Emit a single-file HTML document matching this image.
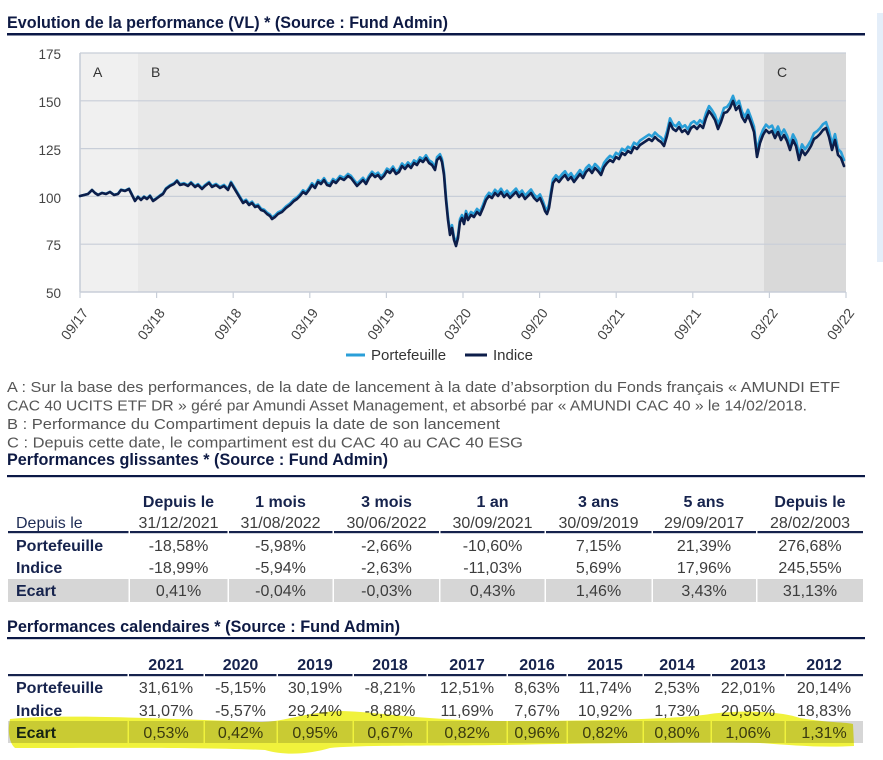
<!DOCTYPE html>
<html><head><meta charset="utf-8"><style>
html,body{margin:0;padding:0;background:#fff;}
svg{display:block;font-family:"Liberation Sans",Arial,sans-serif;}
.t{fill:#3d3d3d;font-size:16px;text-anchor:middle;}
.h{fill:#16234d;font-size:16px;font-weight:bold;text-anchor:middle;}
.l{fill:#16234d;font-size:16px;font-weight:bold;}
.ax{fill:#444;font-size:13.5px;}
</style></head><body>
<svg width="883" height="760" viewBox="0 0 883 760">
<rect width="883" height="760" fill="#fff"/>
<rect x="877" y="13" width="6" height="249" fill="#e4eef9"/>
<!-- Title -->
<text x="7" y="28" font-size="17" font-weight="bold" fill="#0e1a44" textLength="441" lengthAdjust="spacingAndGlyphs">Evolution de la performance (VL) * (Source : Fund Admin)</text>
<rect x="7" y="33" width="858" height="2.5" fill="#0b1846"/>
<!-- Chart backgrounds -->
<rect x="80" y="53" width="58" height="239" fill="#f0f0f0"/>
<rect x="138" y="53" width="626" height="239" fill="#e8e8e8"/>
<rect x="764" y="53" width="82" height="239" fill="#d9d9d9"/>
<g stroke="#c8ced8" stroke-width="1.2">
<line x1="80" y1="53" x2="846" y2="53"/>
<line x1="80" y1="100.8" x2="846" y2="100.8"/>
<line x1="80" y1="148.6" x2="846" y2="148.6"/>
<line x1="80" y1="196.4" x2="846" y2="196.4"/>
<line x1="80" y1="244.2" x2="846" y2="244.2"/>
<line x1="80" y1="292" x2="846" y2="292" stroke-width="1.6"/>
<line x1="80" y1="53" x2="80" y2="292" stroke-width="1.6"/>
<line x1="80" y1="292" x2="80" y2="298"/>
<line x1="156.6" y1="292" x2="156.6" y2="298"/>
<line x1="233.2" y1="292" x2="233.2" y2="298"/>
<line x1="309.8" y1="292" x2="309.8" y2="298"/>
<line x1="386.4" y1="292" x2="386.4" y2="298"/>
<line x1="463" y1="292" x2="463" y2="298"/>
<line x1="539.6" y1="292" x2="539.6" y2="298"/>
<line x1="616.2" y1="292" x2="616.2" y2="298"/>
<line x1="692.8" y1="292" x2="692.8" y2="298"/>
<line x1="769.4" y1="292" x2="769.4" y2="298"/>
<line x1="846" y1="292" x2="846" y2="298"/>
</g>
<g font-size="14" fill="#333">
<text x="93" y="77">A</text>
<text x="151" y="77">B</text>
<text x="777" y="77">C</text>
</g>
<g class="ax" text-anchor="end">
<text x="61" y="59">175</text>
<text x="61" y="107">150</text>
<text x="61" y="155">125</text>
<text x="61" y="203">100</text>
<text x="61" y="250">75</text>
<text x="61" y="298">50</text>
</g>
<g class="ax" text-anchor="end" style="font-size:14px">
<text transform="translate(89,313) rotate(-53)">09/17</text>
<text transform="translate(165.6,313) rotate(-53)">03/18</text>
<text transform="translate(242.2,313) rotate(-53)">09/18</text>
<text transform="translate(318.8,313) rotate(-53)">03/19</text>
<text transform="translate(395.4,313) rotate(-53)">09/19</text>
<text transform="translate(472,313) rotate(-53)">03/20</text>
<text transform="translate(548.6,313) rotate(-53)">09/20</text>
<text transform="translate(625.2,313) rotate(-53)">03/21</text>
<text transform="translate(701.8,313) rotate(-53)">09/21</text>
<text transform="translate(778.4,313) rotate(-53)">03/22</text>
<text transform="translate(855,313) rotate(-53)">09/22</text>
</g>
<!-- Series -->
<g fill="none" stroke-width="2.6" stroke-linejoin="round" stroke-linecap="round">
<polyline stroke="#2a9fd8" transform="matrix(1,-0.00784,0,1,0,0.63)" points="80,196 84,195 88,194 92,190 95,193 98,195 102,193 106,194 110,192 114,195 118,194 121,190 125,191 129,189 132,195 135,201 138,197 141,200 144,197 147,199 150,196 153,201 156,199 160,196 163,194 166,189 170,186 174,184 177,181 180,185 184,184 188,186 191,183 195,187 198,185 202,189 205,186 209,183 212,187 216,185 220,188 224,186 228,190 231,183 234,188 237,193 240,198 243,203 246,201 249,205 252,203 255,207 258,206 261,210 264,211 267,214 270,216 272,219 275,217 278,214 282,212 286,208 290,205 294,201 297,199 300,196 303,192 306,194 309,190 312,185 315,188 318,182 321,184 324,180 327,185 330,186 333,181 336,183 340,178 344,180 348,176 351,178 354,182 357,186 360,183 363,180 366,184 369,178 372,174 375,177 378,175 381,179 384,176 387,171 390,173 393,169 396,174 399,172 402,166 405,169 408,165 411,168 414,163 417,165 420,160 423,162 426,158 429,163 432,165 435,170 437,160 440,157 442,162 444,175 446,200 448,220 450,235 452,228 454,240 456,246 458,238 460,222 462,218 464,224 466,214 468,220 471,215 474,217 477,212 480,215 483,208 486,200 489,196 492,198 495,193 498,196 501,192 504,197 507,194 510,198 513,195 516,192 519,197 522,194 525,199 528,196 531,193 534,198 537,201 540,198 543,205 545,211 547,214 549,208 551,195 553,183 556,179 559,182 562,178 565,175 568,180 571,177 574,182 577,178 580,174 583,178 586,172 589,169 592,173 595,168 598,171 601,175 604,167 607,163 610,160 613,162 616,157 619,159 622,153 625,155 628,151 631,153 634,147 637,149 640,145 643,143 646,141 649,139 652,141 655,137 658,140 661,142 664,146 667,136 670,123 673,129 676,131 679,127 682,132 685,130 688,134 691,128 694,126 697,129 700,125 703,128 706,118 709,111 712,115 715,120 718,129 721,122 724,113 727,112 730,108 733,101 736,110 739,106 742,117 745,122 748,115 751,123 754,132 757,157 760,143 763,135 766,130 769,133 772,131 775,138 778,132 781,140 784,135 787,141 790,150 793,140 796,146 799,160 802,150 805,155 808,151 811,146 814,139 817,137 820,134 823,130 826,128 829,137 832,150 835,140 838,155 841,158 844,166"/>
<polyline stroke="#0d1e4a" points="80,196 84,195 88,194 92,190 95,193 98,195 102,193 106,194 110,192 114,195 118,194 121,190 125,191 129,189 132,195 135,201 138,197 141,200 144,197 147,199 150,196 153,201 156,199 160,196 163,194 166,189 170,186 174,184 177,181 180,185 184,184 188,186 191,183 195,187 198,185 202,189 205,186 209,183 212,187 216,185 220,188 224,186 228,190 231,183 234,188 237,193 240,198 243,203 246,201 249,205 252,203 255,207 258,206 261,210 264,211 267,214 270,216 272,219 275,217 278,214 282,212 286,208 290,205 294,201 297,199 300,196 303,192 306,194 309,190 312,185 315,188 318,182 321,184 324,180 327,185 330,186 333,181 336,183 340,178 344,180 348,176 351,178 354,182 357,186 360,183 363,180 366,184 369,178 372,174 375,177 378,175 381,179 384,176 387,171 390,173 393,169 396,174 399,172 402,166 405,169 408,165 411,168 414,163 417,165 420,160 423,162 426,158 429,163 432,165 435,170 437,160 440,157 442,162 444,175 446,200 448,220 450,235 452,228 454,240 456,246 458,238 460,222 462,218 464,224 466,214 468,220 471,215 474,217 477,212 480,215 483,208 486,200 489,196 492,198 495,193 498,196 501,192 504,197 507,194 510,198 513,195 516,192 519,197 522,194 525,199 528,196 531,193 534,198 537,201 540,198 543,205 545,211 547,214 549,208 551,195 553,183 556,179 559,182 562,178 565,175 568,180 571,177 574,182 577,178 580,174 583,178 586,172 589,169 592,173 595,168 598,171 601,175 604,167 607,163 610,160 613,162 616,157 619,159 622,153 625,155 628,151 631,153 634,147 637,149 640,145 643,143 646,141 649,139 652,141 655,137 658,140 661,142 664,146 667,136 670,123 673,129 676,131 679,127 682,132 685,130 688,134 691,128 694,126 697,129 700,125 703,128 706,118 709,111 712,115 715,120 718,129 721,122 724,113 727,112 730,108 733,101 736,110 739,106 742,117 745,122 748,115 751,123 754,132 757,157 760,143 763,135 766,130 769,133 772,131 775,138 778,132 781,140 784,135 787,141 790,150 793,140 796,146 799,160 802,150 805,155 808,151 811,146 814,139 817,137 820,134 823,130 826,128 829,137 832,150 835,140 838,155 841,158 844,166"/>
</g>
<!-- Legend -->
<line x1="346" y1="355" x2="365" y2="355" stroke="#2a9fd8" stroke-width="3"/>
<text x="371" y="360" font-size="15" fill="#333">Portefeuille</text>
<line x1="465" y1="355" x2="487" y2="355" stroke="#0d1e4a" stroke-width="3"/>
<text x="493" y="360" font-size="15" fill="#333">Indice</text>
<!-- Notes -->
<g font-size="15" fill="#555">
<text x="7" y="392" textLength="833" lengthAdjust="spacingAndGlyphs">A : Sur la base des performances, de la date de lancement à la date d’absorption du Fonds français « AMUNDI ETF</text>
<text x="7" y="410.5" textLength="800" lengthAdjust="spacingAndGlyphs">CAC 40 UCITS ETF DR » géré par Amundi Asset Management, et absorbé par « AMUNDI CAC 40 » le 14/02/2018.</text>
<text x="7" y="429" textLength="493" lengthAdjust="spacingAndGlyphs">B : Performance du Compartiment depuis la date de son lancement</text>
<text x="7" y="447.5" textLength="516" lengthAdjust="spacingAndGlyphs">C : Depuis cette date, le compartiment est du CAC 40 au CAC 40 ESG</text>
</g>
<!-- Table 1 -->
<text x="7" y="465" font-size="16.5" font-weight="bold" fill="#0e1a44" textLength="381" lengthAdjust="spacingAndGlyphs">Performances glissantes * (Source : Fund Admin)</text>
<rect x="7" y="475" width="858" height="2.2" fill="#0b1846"/>
<rect x="8" y="579" width="855" height="23" fill="#d6d6d6"/>
<g fill="#fff">
<rect x="128.5" y="579" width="1.5" height="23"/><rect x="227.5" y="579" width="1.5" height="23"/><rect x="332.5" y="579" width="1.5" height="23"/><rect x="439" y="579" width="1.5" height="23"/><rect x="544.5" y="579" width="1.5" height="23"/><rect x="651.5" y="579" width="1.5" height="23"/><rect x="756" y="579" width="1.5" height="23"/>
</g>
<g fill="#16234d">
<rect x="8" y="531" width="120.5" height="2.2"/><rect x="130" y="531" width="97.5" height="2.2"/><rect x="229" y="531" width="103.5" height="2.2"/><rect x="334" y="531" width="105" height="2.2"/><rect x="440.5" y="531" width="104" height="2.2"/><rect x="546" y="531" width="105.5" height="2.2"/><rect x="653" y="531" width="103" height="2.2"/><rect x="757.5" y="531" width="105.5" height="2.2"/>
</g>
<g class="h">
<text x="178.5" y="507">Depuis le</text><text x="280.5" y="507">1 mois</text><text x="386.5" y="507">3 mois</text><text x="492.5" y="507">1 an</text><text x="598.5" y="507">3 ans</text><text x="704" y="507">5 ans</text><text x="810" y="507">Depuis le</text>
</g>
<text x="16" y="528" font-size="16" fill="#1e2c55">Depuis le</text>
<g class="t">
<text x="178.5" y="528">31/12/2021</text><text x="280.5" y="528">31/08/2022</text><text x="386.5" y="528">30/06/2022</text><text x="492.5" y="528">30/09/2021</text><text x="598.5" y="528">30/09/2019</text><text x="704" y="528">29/09/2017</text><text x="810" y="528">28/02/2003</text>
<text x="178.5" y="551">-18,58%</text><text x="280.5" y="551">-5,98%</text><text x="386.5" y="551">-2,66%</text><text x="492.5" y="551">-10,60%</text><text x="598.5" y="551">7,15%</text><text x="704" y="551">21,39%</text><text x="810" y="551">276,68%</text>
<text x="178.5" y="573">-18,99%</text><text x="280.5" y="573">-5,94%</text><text x="386.5" y="573">-2,63%</text><text x="492.5" y="573">-11,03%</text><text x="598.5" y="573">5,69%</text><text x="704" y="573">17,96%</text><text x="810" y="573">245,55%</text>
<text x="178.5" y="596">0,41%</text><text x="280.5" y="596">-0,04%</text><text x="386.5" y="596">-0,03%</text><text x="492.5" y="596">0,43%</text><text x="598.5" y="596">1,46%</text><text x="704" y="596">3,43%</text><text x="810" y="596">31,13%</text>
</g>
<g class="l">
<text x="16" y="551">Portefeuille</text><text x="16" y="573">Indice</text><text x="16" y="596">Ecart</text>
</g>
<!-- Table 2 -->
<text x="7" y="632" font-size="16.5" font-weight="bold" fill="#0e1a44" textLength="393" lengthAdjust="spacingAndGlyphs">Performances calendaires * (Source : Fund Admin)</text>
<rect x="7" y="637" width="858" height="2.2" fill="#0b1846"/>
<rect x="8" y="721" width="855" height="22" fill="#d6d6d6"/>
<g fill="#fff">
<rect x="127.5" y="721" width="1.5" height="22"/><rect x="203.5" y="721" width="1.5" height="22"/><rect x="276.5" y="721" width="1.5" height="22"/><rect x="352.5" y="721" width="1.5" height="22"/><rect x="426.5" y="721" width="1.5" height="22"/><rect x="506.5" y="721" width="1.5" height="22"/><rect x="566.5" y="721" width="1.5" height="22"/><rect x="642.5" y="721" width="1.5" height="22"/><rect x="710.5" y="721" width="1.5" height="22"/><rect x="784.5" y="721" width="1.5" height="22"/>
</g>
<g fill="#16234d">
<rect x="8" y="674" width="119.5" height="2.2"/><rect x="129" y="674" width="74.5" height="2.2"/><rect x="205" y="674" width="71.5" height="2.2"/><rect x="278" y="674" width="74.5" height="2.2"/><rect x="354" y="674" width="72.5" height="2.2"/><rect x="428" y="674" width="78.5" height="2.2"/><rect x="508" y="674" width="58.5" height="2.2"/><rect x="568" y="674" width="74.5" height="2.2"/><rect x="644" y="674" width="66.5" height="2.2"/><rect x="712" y="674" width="72.5" height="2.2"/><rect x="786" y="674" width="77" height="2.2"/>
</g>
<g class="h">
<text x="166" y="670">2021</text><text x="240.5" y="670">2020</text><text x="315" y="670">2019</text><text x="390" y="670">2018</text><text x="467" y="670">2017</text><text x="537" y="670">2016</text><text x="605" y="670">2015</text><text x="677" y="670">2014</text><text x="748" y="670">2013</text><text x="824" y="670">2012</text>
</g>
<g class="t">
<text x="166" y="693">31,61%</text><text x="240.5" y="693">-5,15%</text><text x="315" y="693">30,19%</text><text x="390" y="693">-8,21%</text><text x="467" y="693">12,51%</text><text x="537" y="693">8,63%</text><text x="605" y="693">11,74%</text><text x="677" y="693">2,53%</text><text x="748" y="693">22,01%</text><text x="824" y="693">20,14%</text>
<text x="166" y="716">31,07%</text><text x="240.5" y="716">-5,57%</text><text x="315" y="716">29,24%</text><text x="390" y="716">-8,88%</text><text x="467" y="716">11,69%</text><text x="537" y="716">7,67%</text><text x="605" y="716">10,92%</text><text x="677" y="716">1,73%</text><text x="748" y="716">20,95%</text><text x="824" y="716">18,83%</text>
<text x="166" y="738">0,53%</text><text x="240.5" y="738">0,42%</text><text x="315" y="738">0,95%</text><text x="390" y="738">0,67%</text><text x="467" y="738">0,82%</text><text x="537" y="738">0,96%</text><text x="605" y="738">0,82%</text><text x="677" y="738">0,80%</text><text x="748" y="738">1,06%</text><text x="824" y="738">1,31%</text>
</g>
<g class="l">
<text x="16" y="693">Portefeuille</text><text x="16" y="716">Indice</text><text x="16" y="738">Ecart</text>
</g>
<!-- Highlighter -->
<path style="mix-blend-mode:multiply" fill="#f0f23c" d="M10,719 C60,714 150,718 260,722 C285,722 300,713 340,711 C380,712 420,720 500,721 C600,721 680,719 710,714 C740,710 780,711 800,718 C830,723 845,722 853,724 L854,746 C820,748 790,745 760,743 C700,742 600,743 500,745 C420,746 360,745 330,748 C310,754 285,756 265,750 C200,747 100,748 15,748 C8,742 8,728 10,719 Z"/>
</svg>
</body></html>
